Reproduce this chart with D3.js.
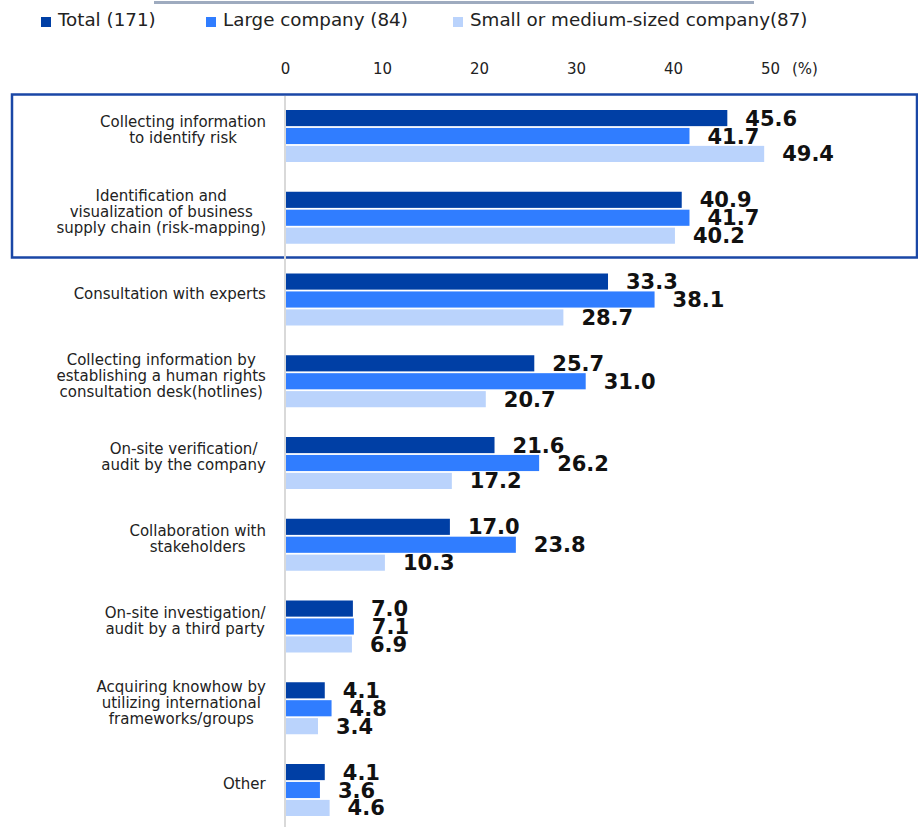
<!DOCTYPE html>
<html>
<head>
<meta charset="utf-8">
<script src="https://cdn.jsdelivr.net/npm/d3@7"></script>
<style>
  body { margin: 0; background: #fff; }
  svg { display: block; font-family: "DejaVu Sans", Verdana, sans-serif; }
</style>
</head>
<body>
<div id="chart"></div>
<script>
var categories = [
    ["Collecting information", "to identify risk"],
    ["Identification and", "visualization of business", "supply chain (risk-mapping)"],
    ["Consultation with experts"],
    ["Collecting information by", "establishing a human rights", "consultation desk(hotlines)"],
    ["On-site verification/", "audit by the company"],
    ["Collaboration with", "stakeholders"],
    ["On-site investigation/", "audit by a third party"],
    ["Acquiring knowhow by", "utilizing international", "frameworks/groups"],
    ["Other"]
];
var seriesNames = ["Total (171)", "Large company (84)", "Small or medium-sized company(87)"];
var totalValues = [45.6, 40.9, 33.3, 25.7, 21.6, 17.0, 7.0, 4.1, 4.1];
var largeValues = [41.7, 41.7, 38.1, 31.0, 26.2, 23.8, 7.1, 4.8, 3.6];
var smallValues = [49.4, 40.2, 28.7, 20.7, 17.2, 10.3, 6.9, 3.4, 4.6];
var tickValues = [0, 10, 20, 30, 40, 50];
var colors = ["#003fa5", "#307dff", "#bad3fc"];

var width = 918, height = 827;
var series = [totalValues, largeValues, smallValues];

var svg = d3.select("#chart").append("svg")
    .attr("width", width)
    .attr("height", height);

var x = d3.scaleLinear().domain([0, 50]).range([285, 770]);

var y0 = d3.scaleBand()
    .domain(d3.range(categories.length))
    .range([95, 95 + 81.75 * categories.length]);

var y1 = d3.scaleBand()
    .domain(d3.range(3))
    .range([15, 67])
    .paddingInner(0.1);

// grey line at top
svg.append("line")
    .attr("x1", 154).attr("x2", 754)
    .attr("y1", 2.5).attr("y2", 2.5)
    .attr("stroke", "#9eabbf")
    .attr("stroke-width", 3);

// legend
var legendX = [41, 206, 453];
var legend = svg.selectAll(".legend")
    .data(seriesNames)
    .enter().append("g")
    .attr("class", "legend")
    .attr("transform", function (d, i) { return "translate(" + legendX[i] + ",0)"; });

legend.append("rect")
    .attr("x", 0).attr("y", 17)
    .attr("width", 10).attr("height", 10)
    .attr("fill", function (d, i) { return colors[i]; });

legend.append("text")
    .attr("x", 17).attr("y", 26)
    .attr("font-size", "18.3px")
    .attr("fill", "#222")
    .text(function (d) { return d; });

// x axis tick labels on top
var xAxis = svg.append("g")
    .attr("transform", "translate(0,74)")
    .call(d3.axisTop(x).tickValues(tickValues).tickSize(0).tickPadding(0));
xAxis.select(".domain").remove();
xAxis.selectAll("text")
    .attr("font-size", "15px")
    .attr("font-family", "DejaVu Sans, Verdana, sans-serif")
    .attr("fill", "#222");

svg.append("text")
    .attr("x", 792).attr("y", 74)
    .attr("font-size", "15px")
    .attr("fill", "#222")
    .text("(%)");

// highlight box
svg.append("rect")
    .attr("x", 12).attr("y", 94.5)
    .attr("width", 905).attr("height", 163)
    .attr("fill", "none")
    .attr("stroke", "#1a47a6")
    .attr("stroke-width", 2.5);

// baseline
svg.append("line")
    .attr("x1", x(0)).attr("x2", x(0))
    .attr("y1", 96).attr("y2", height)
    .attr("stroke", "#d9d9d9")
    .attr("stroke-width", 2);

// groups
var groups = svg.selectAll(".group")
    .data(categories)
    .enter().append("g")
    .attr("class", "group")
    .attr("transform", function (d, i) { return "translate(0," + y0(i) + ")"; });

groups.each(function (cat, ci) {
    var g = d3.select(this);

    g.selectAll("rect")
        .data(series.map(function (s) { return s[ci]; }))
        .enter().append("rect")
        .attr("x", x(0) + 1)
        .attr("y", function (d, i) { return y1(i); })
        .attr("width", function (d) { return x(d) - x(0) - 1; })
        .attr("height", y1.bandwidth())
        .attr("fill", function (d, i) { return colors[i]; });

    g.selectAll(".val")
        .data(series.map(function (s) { return s[ci]; }))
        .enter().append("text")
        .attr("class", "val")
        .attr("x", function (d) { return x(d) + 18; })
        .attr("y", function (d, i) { return y1(i) + y1.bandwidth() / 2; })
        .attr("dy", "0.36em")
        .attr("font-size", "21px")
        .attr("font-weight", "bold")
        .attr("fill", "#111")
        .text(function (d) { return d.toFixed(1); });

    var center = 41 - 6;
    var lh = 16;
    var label = g.append("text")
        .attr("text-anchor", "middle")
        .attr("font-size", "15px")
        .attr("fill", "#222");
    cat.forEach(function (line, li) {
        label.append("tspan")
            .attr("x", 0)
            .attr("y", center + (li - (cat.length - 1) / 2) * lh)
            .attr("dy", "0.35em")
            .text(line);
    });
    // right align block, centred lines inside it
    var bb = label.node().getBBox();
    label.attr("transform", "translate(" + (266 - bb.width / 2) + ",0)");
});
</script>
</body>
</html>
